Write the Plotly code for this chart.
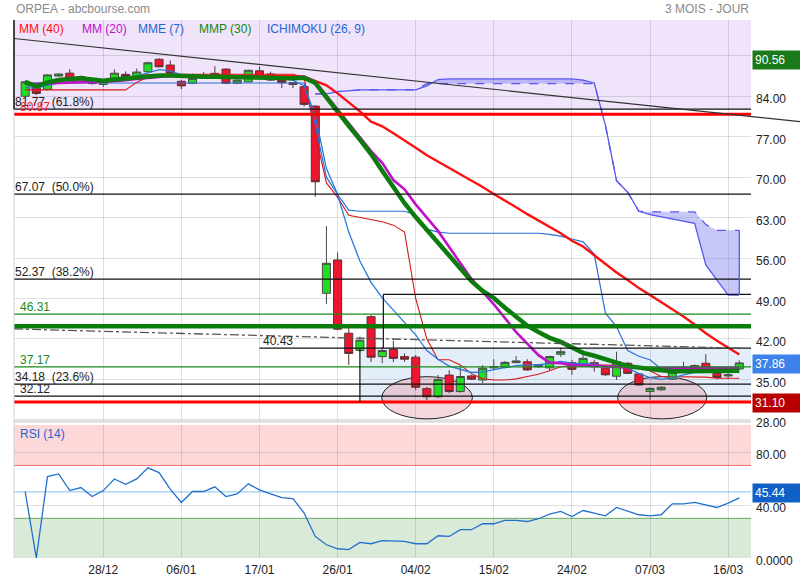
import plotly.graph_objects as go

# ---------------- data ----------------
tick_idx = [7, 14, 21, 28, 35, 42, 49, 56, 63]
tick_labels = ["28/12", "06/01", "17/01", "26/01", "04/02", "15/02", "24/02", "07/03", "16/03"]

opens = [84.0, 85.55, 85.2, 87.5, 88.0, 87.4, 86.5, 86.05, 86.9, 87.8,
         87.4, 88.25, 90.4, 89.4, 86.6, 86.25, 87.15, 87.97, 88.7, 86.25,
         86.5, 88.4, 87.85, 86.8, 86.35, 85.65, 82.3, 49.9, 55.67, 43.0,
         40.0, 45.85, 38.95, 40.2, 38.95, 38.85, 33.4, 32.0, 35.75, 32.9,
         35.6, 34.9, 37.0, 37.1, 37.9, 38.05, 37.2, 37.0, 39.35, 37.9,
         37.45, 37.9, 36.95, 35.55, 37.8, 35.95, 32.9, 33.2, 35.05, 36.9,
         37.05, 37.8, 36.05, 35.6, 36.8]
highs = [86.7, 85.7, 87.8, 87.95, 88.7, 87.6, 86.7, 86.9, 88.65, 88.3,
         88.8, 90.0, 90.56, 90.2, 86.8, 87.95, 88.2, 89.2, 88.8, 86.9,
         88.6, 89.1, 88.25, 86.9, 86.5, 85.8, 82.4, 61.55, 57.0, 43.85,
         42.4, 46.15, 40.6, 41.7, 39.5, 39.2, 33.7, 35.75, 36.6, 37.2,
         35.8, 37.5, 38.5, 38.2, 39.05, 38.5, 37.7, 39.1, 40.45, 38.4,
         39.2, 38.4, 37.1, 39.8, 38.0, 36.1, 33.6, 33.8, 37.0, 38.07,
         37.6, 39.35, 36.2, 36.3, 38.3]
lows = [83.8, 84.2, 85.0, 87.4, 87.0, 86.9, 86.0, 85.65, 86.8, 87.2,
        87.2, 88.1, 89.0, 87.7, 85.25, 86.1, 87.0, 87.1, 86.1, 86.1,
        86.4, 87.4, 86.7, 85.4, 85.4, 82.25, 66.6, 48.05, 43.5, 37.5,
        39.75, 38.0, 37.8, 38.0, 38.05, 33.2, 31.45, 31.75, 32.6, 32.7,
        34.9, 34.35, 36.6, 36.9, 37.8, 36.5, 37.0, 36.5, 38.9, 35.8,
        37.3, 36.35, 35.6, 34.9, 35.9, 33.9, 31.45, 33.0, 34.9, 36.65,
        36.9, 36.9, 35.0, 35.1, 36.6]
closes = [86.5, 84.5, 87.7, 87.85, 87.1, 87.2, 86.2, 86.8, 88.0, 87.4,
          88.2, 89.8, 89.1, 88.0, 85.8, 87.1, 87.35, 87.5, 86.25, 86.8,
          88.5, 87.5, 86.8, 86.35, 86.05, 82.6, 69.2, 55.1, 43.7, 39.5,
          41.8, 38.85, 40.0, 38.65, 38.5, 33.65, 32.0, 35.0, 32.9, 35.5,
          35.05, 36.95, 37.2, 37.95, 38.2, 36.65, 37.5, 38.95, 39.8, 36.75,
          38.65, 37.2, 35.8, 38.05, 36.05, 34.05, 33.45, 33.65, 36.25, 37.1,
          37.4, 37.05, 35.35, 35.8, 37.86]

mm40 = [86.4, 85.8, 86.3, 86.7, 86.9, 87.0, 86.85, 86.7, 86.85, 87.05,
        87.3, 87.6, 87.6, 87.6, 87.6, 87.6, 87.6, 87.6, 87.6, 87.6,
        87.6, 87.6, 87.6, 87.6, 87.5, 87.4, 86.7, 85.9, 84.5, 83.0,
        81.4, 79.6, 78.8, 77.6, 76.4, 75.1, 73.8, 72.7, 71.6, 70.6,
        69.4, 68.3, 67.1, 66.0, 64.8, 63.6, 62.5, 61.4, 60.3, 59.0,
        58.0, 56.5, 55.0, 53.5, 52.2, 50.8, 49.6, 48.4, 47.2, 45.9,
        44.5, 43.0, 41.7, 40.5, 39.3]
mm20 = [86.1, 86.1, 86.2, 86.3, 86.4, 86.5, 86.5, 86.5, 86.6, 86.8,
        87.0, 87.2, 87.4, 87.5, 87.4, 87.4, 87.4, 87.4, 87.4, 87.4,
        87.4, 87.4, 87.35, 87.3, 87.2, 87.4, 86.5, 84.1, 81.8, 79.4,
        77.0, 74.5, 72.5, 69.5, 67.9, 65.3, 63.0, 60.7, 57.9, 55.1,
        52.4, 50.2, 48.0, 45.6, 43.2, 41.2, 39.2, 37.9, 37.8, 37.5,
        37.4, 37.3, 37.2, 37.1, 37.05, 37.0, 36.95, 36.95, 37.0, 37.0,
        37.0, 37.0, 36.95, 36.95, 37.0]
mme7 = [85.5, 85.4, 85.9, 86.3, 86.5, 86.6, 86.5, 86.6, 86.9, 87.1,
        87.5, 88.1, 88.6, 88.4, 87.7, 87.5, 87.4, 87.4, 87.1, 87.1,
        87.4, 87.4, 87.2, 87.0, 86.8, 85.8, 80.7, 71.5, 67.0, 60.5,
        55.5, 51.8, 49.1, 47.0, 44.9, 42.7, 40.0, 38.5, 37.3, 36.7,
        36.2, 36.3, 36.7, 37.1, 37.4, 37.5, 37.5, 37.8, 38.1, 37.8,
        37.8, 37.7, 37.2, 37.3, 37.0, 36.0, 35.3, 35.0, 35.3, 35.8,
        36.3, 36.7, 36.5, 36.7, 37.3]
mmp30 = [86.5, 85.7, 86.4, 86.8, 87.0, 87.1, 86.9, 86.7, 86.9, 87.1,
         87.3, 87.45, 87.6, 87.6, 87.5, 87.4, 87.4, 87.4, 87.35, 87.3,
         87.3, 87.25, 87.2, 87.2, 87.1, 87.2, 86.3, 83.8, 81.2, 78.9,
         76.5, 74.0, 71.1, 68.3, 65.5, 63.1, 60.9, 58.7, 56.5, 54.3,
         52.0, 50.3, 49.1, 47.4, 45.8, 44.3, 43.2, 42.2, 41.5, 40.5,
         39.6, 39.1, 38.6, 37.9, 37.3, 37.0, 36.8, 36.6, 36.4, 36.4,
         36.4, 36.4, 36.45, 36.5, 36.5]
tenkan = [85.1, 85.1, 85.1, 85.1, 85.1, 85.1, 85.1, 85.1, 85.1, 85.1,
          86.4, 87.4, 87.7, 87.8, 87.8, 87.8, 87.8, 87.8, 87.8, 87.8,
          87.8, 87.8, 87.8, 87.8, 87.8, 87.2, 77.5, 69.0, 66.5, 63.4,
          63.0, 62.7, 62.3, 61.7, 60.5, 49.0, 42.0, 38.4, 38.4, 37.5,
          36.0, 35.1, 34.9, 34.9, 35.1, 35.5, 35.9, 36.5, 37.2, 37.4,
          37.5, 37.5, 37.5, 37.5, 37.4, 37.2, 36.5, 35.5, 35.5, 35.5,
          35.5, 35.4, 35.2, 35.2, 35.2]
kijun = [86.3, 86.3, 86.3, 86.3, 86.3, 86.3, 86.3, 86.3, 86.3, 86.3,
         86.3, 86.3, 86.3, 86.3, 86.3, 86.3, 86.3, 86.3, 86.3, 86.3,
         86.3, 86.3, 86.3, 86.3, 86.3, 86.3, 79.0, 70.0, 67.0, 64.3,
         64.1, 64.1, 64.1, 64.1, 64.1, 63.5, 61.0, 60.5, 60.3, 60.3,
         60.3, 60.3, 60.3, 60.3, 60.3, 60.3, 60.3, 60.1, 59.8, 59.3,
         58.8, 56.7, 46.5, 44.1, 40.0, 39.0, 38.4, 36.8, 36.2, 36.2,
         36.2, 36.2, 36.2, 36.2, 36.2]
cloud_x = list(range(26, 65))
cloud_solid = [84.4, 84.4, 84.8, 85.0, 85.1, 85.1, 85.1, 85.1, 85.1, 85.1,
               85.8, 86.9, 87.0, 87.0, 87.0, 87.0, 87.0, 87.0, 87.0, 87.0,
               87.0, 87.0, 87.0, 87.0, 86.8, 86.3, 79.0, 69.4, 67.4, 64.1,
               63.5, 63.1, 62.7, 62.4, 62.0, 54.8, 52.3, 49.6, 49.6]
cloud_dashed = [84.4, 84.4, 84.8, 85.0, 85.1, 85.1, 85.1, 85.1, 85.1, 85.1,
                86.2, 86.2, 86.2, 86.2, 86.2, 86.2, 86.2, 86.2, 86.2, 86.2,
                86.2, 86.2, 86.2, 86.2, 86.2, 86.2, 79.0, 69.4, 67.4, 64.1,
                64.0, 64.0, 64.0, 64.0, 64.0, 61.8, 60.8, 60.8, 60.8]
rsi = [50.3, 0.0, 61.6, 63.6, 51.0, 53.3, 46.5, 51.0, 59.8, 55.8,
       59.8, 68.2, 64.6, 52.1, 42.0, 50.3, 50.3, 53.8, 46.5, 48.5,
       56.1, 51.5, 48.5, 45.7, 45.0, 34.0, 16.3, 10.0, 7.0, 6.3,
       11.8, 10.8, 13.1, 13.1, 12.6, 10.8, 10.8, 16.8, 16.3, 21.4,
       21.4, 25.9, 25.9, 28.4, 28.4, 27.6, 29.7, 33.2, 35.2, 31.4,
       35.9, 34.0, 31.9, 38.2, 35.2, 32.7, 31.9, 32.7, 41.0, 41.0,
       42.0, 40.2, 38.2, 41.5, 45.44]

fib_levels = [81.77, 67.07, 52.37, 34.18]
fib_pcts = ["61.8%", "50.0%", "38.2%", "23.6%"]
support_level = 32.12
red_levels = [80.87, 31.10]
green_levels = [46.31, 37.17]
green_thick_level = 44.2
level_4043 = 40.43
box_top = 49.73
box_left_idx = 30
rect_left_idx = 32.1
level_4043_start = 21
trend_top = [94.0, 79.6]
dashdot_line = [43.73, 40.35]
ellipses = [[31.96, 40.08, 28.17, 35.48], [53.1, 61.08, 28.17, 35.48]]
max_price = 90.56
last_price = 37.86
support_price = 31.10
rsi_last = 45.44

N = len(closes)
xs = list(range(N))
X_MIN, X_MAX = -1, 65.05
Y_MIN, Y_MAX = 27.8, 97.2
R_MIN, R_MAX = 0, 100.6
FONT = "Liberation Sans, Arial, sans-serif"

fig = go.Figure()

fig.add_trace(go.Candlestick(
    x=xs, open=opens, high=highs, low=lows, close=closes,
    increasing=dict(fillcolor="#22dd22", line=dict(color="#4a4a4a", width=1)),
    decreasing=dict(fillcolor="#ee1530", line=dict(color="#5a3030", width=1)),
    whiskerwidth=0, xaxis="x", yaxis="y", hoverinfo="skip"))

# Ichimoku cloud
fig.add_trace(go.Scatter(x=cloud_x, y=cloud_solid, mode="lines",
                         line=dict(color="#5858f2", width=1.3), xaxis="x", yaxis="y"))
fig.add_trace(go.Scatter(x=cloud_x, y=cloud_dashed, mode="lines",
                         line=dict(color="#5858f2", width=1.3, dash="dash"),
                         fill="tonexty", fillcolor="rgba(95,95,235,0.35)",
                         xaxis="x", yaxis="y"))
fig.add_trace(go.Scatter(x=xs, y=kijun, mode="lines",
                         line=dict(color="#2a6fd6", width=1.2), xaxis="x", yaxis="y"))
fig.add_trace(go.Scatter(x=xs, y=tenkan, mode="lines",
                         line=dict(color="#d81818", width=1.1), xaxis="x", yaxis="y"))
fig.add_trace(go.Scatter(x=xs, y=mme7, mode="lines",
                         line=dict(color="#2a78dc", width=1.3), xaxis="x", yaxis="y"))
fig.add_trace(go.Scatter(x=xs, y=mm40, mode="lines",
                         line=dict(color="#ff1010", width=2.4), xaxis="x", yaxis="y"))
fig.add_trace(go.Scatter(x=xs, y=mm20, mode="lines",
                         line=dict(color="#c010c8", width=2.6), xaxis="x", yaxis="y"))
fig.add_trace(go.Scatter(x=xs, y=mmp30, mode="lines",
                         line=dict(color="#0c7d0c", width=4.5), xaxis="x", yaxis="y"))

# RSI
fig.add_trace(go.Scatter(x=xs, y=rsi, mode="lines",
                         line=dict(color="#2070cc", width=1.3), xaxis="x2", yaxis="y2"))

shapes = []
# backgrounds
shapes.append(dict(type="rect", xref="x domain", x0=0, x1=1, yref="y", y0=fib_levels[0], y1=Y_MAX,
                   fillcolor="#f0e4fb", line=dict(width=0), layer="below"))
shapes.append(dict(type="rect", xref="x", x0=box_left_idx, x1=X_MAX, yref="y",
                   y0=support_price, y1=level_4043,
                   fillcolor="#e4eefa", line=dict(width=0), layer="below"))
shapes.append(dict(type="rect", xref="x2 domain", x0=0, x1=1, yref="y2", y0=70, y1=R_MAX,
                   fillcolor="#fcd8d8", line=dict(width=0), layer="below"))
shapes.append(dict(type="rect", xref="x2 domain", x0=0, x1=1, yref="y2", y0=R_MIN, y1=30,
                   fillcolor="#d9ead9", line=dict(width=0), layer="below"))
# RSI reference lines
shapes.append(dict(type="line", xref="x2 domain", x0=0, x1=1, yref="y2", y0=70, y1=70,
                   line=dict(color="#f07070", width=1), layer="below"))
shapes.append(dict(type="line", xref="x2 domain", x0=0, x1=1, yref="y2", y0=50, y1=50,
                   line=dict(color="#88c2f0", width=1), layer="below"))
shapes.append(dict(type="line", xref="x2 domain", x0=0, x1=1, yref="y2", y0=30, y1=30,
                   line=dict(color="#66a866", width=1), layer="below"))
# ellipses
for e in ellipses:
    shapes.append(dict(type="circle", xref="x", yref="y", x0=e[0], x1=e[1], y0=e[2], y1=e[3],
                       fillcolor="rgba(225,130,145,0.33)", line=dict(color="#222", width=1),
                       layer="below"))


def hline(v, color, width=1, dash="solid", x0=None, layer="above"):
    if x0 is None:
        return dict(type="line", xref="x domain", x0=0, x1=1, yref="y", y0=v, y1=v,
                    line=dict(color=color, width=width, dash=dash), layer=layer)
    return dict(type="line", xref="x", x0=x0, x1=X_MAX, yref="y", y0=v, y1=v,
                line=dict(color=color, width=width, dash=dash), layer=layer)


for v in fib_levels:
    shapes.append(hline(v, "#111", 1.2))
shapes.append(hline(support_level, "#111", 1.2))
for v in red_levels:
    shapes.append(hline(v, "#ff0000", 3))
for v in green_levels:
    shapes.append(hline(v, "#1a8a1a", 1.2))
shapes.append(hline(green_thick_level, "#0c7d0c", 4.5))
shapes.append(hline(level_4043, "#111", 1.2, x0=level_4043_start))
shapes.append(hline(box_top, "#111", 1.2, x0=rect_left_idx))
shapes.append(dict(type="line", xref="x", x0=rect_left_idx, x1=rect_left_idx, yref="y",
                   y0=level_4043, y1=box_top, line=dict(color="#111", width=1.2)))
shapes.append(dict(type="line", xref="x", x0=box_left_idx, x1=box_left_idx, yref="y",
                   y0=support_price, y1=level_4043, line=dict(color="#111", width=1.2)))
shapes.append(dict(type="line", xref="x", x0=cloud_x[-1], x1=cloud_x[-1], yref="y",
                   y0=cloud_solid[-1], y1=cloud_dashed[-1], line=dict(color="#5858f2", width=1.3)))
# dash-dot and trend line
shapes.append(dict(type="line", xref="x", x0=X_MIN, x1=X_MAX, yref="y",
                   y0=dashdot_line[0], y1=dashdot_line[1],
                   line=dict(color="#555", width=1.3, dash="dashdot")))
shapes.append(dict(type="line", xref="paper", x0=0, x1=1.0665, yref="y",
                   y0=trend_top[0], y1=trend_top[1], line=dict(color="#333", width=1.2)))
# left borders
shapes.append(dict(type="line", xref="paper", x0=0, x1=0, yref="paper", y0=0, y1=1,
                   line=dict(color="#d0d0d0", width=1)))
shapes.append(dict(type="line", xref="paper", x0=0, x1=0, yref="y", y0=fib_levels[0], y1=Y_MAX,
                   line=dict(color="#111", width=1.5)))
# panel separator
shapes.append(dict(type="line", xref="paper", x0=0, x1=1, yref="paper", y0=0.2535, y1=0.2535,
                   line=dict(color="#dcdcdc", width=2.5)))

ann = []
ann.append(dict(text="ORPEA - abcbourse.com", xref="paper", yref="paper", x=0, y=1.0204,
                xanchor="left", yanchor="middle", showarrow=False,
                font=dict(size=12, color="#8a8a8a", family=FONT)))
ann.append(dict(text="3 MOIS - JOUR", xref="paper", yref="paper", x=1, y=1.0204,
                xanchor="right", yanchor="middle", showarrow=False,
                font=dict(size=12, color="#8a8a8a", family=FONT)))
legend_items = [("MM (40)", "#ff1010", 0.0055), ("MM (20)", "#c010c8", 0.091),
                ("MME (7)", "#1f66d1", 0.167), ("MMP (30)", "#118811", 0.2495),
                ("ICHIMOKU (26, 9)", "#1f66d1", 0.342)]
for t, c, xp in legend_items:
    ann.append(dict(text=t, xref="paper", yref="paper", x=xp, y=0.9833, xanchor="left",
                    yanchor="middle", showarrow=False, borderpad=0,
                    font=dict(size=12, color=c, family=FONT)))
ann.append(dict(text="RSI (14)", xref="paper", yref="paper", x=0.007, y=0.2305, xanchor="left",
                yanchor="middle", showarrow=False, borderpad=0,
                font=dict(size=12, color="#1f66d1", family=FONT)))

for v, p in zip(fib_levels, fib_pcts):
    ann.append(dict(text=f"{v:.2f}\u00a0\u00a0({p})", xref="paper", yref="y", x=0, y=v,
                    xanchor="left", yanchor="bottom", showarrow=False, borderpad=0, yshift=-1,
                    font=dict(size=12, color="#222", family=FONT)))
ann.append(dict(text=f"{support_level:.2f}", xref="paper", yref="y", x=0, xshift=5,
                y=support_level, xanchor="left", yanchor="bottom", showarrow=False, borderpad=0,
                yshift=-1, font=dict(size=12, color="#222", family=FONT)))
ann.append(dict(text=f"{red_levels[0]:.2f}", xref="paper", yref="y", x=0, xshift=5,
                y=red_levels[0], xanchor="left", yanchor="bottom", showarrow=False, borderpad=0,
                yshift=-1, font=dict(size=12, color="#ff2020", family=FONT)))
for v in green_levels:
    ann.append(dict(text=f"{v:.2f}", xref="paper", yref="y", x=0, xshift=5, y=v,
                    xanchor="left", yanchor="bottom", showarrow=False, borderpad=0, yshift=-1,
                    font=dict(size=12, color="#1a8a1a", family=FONT)))
ann.append(dict(text=f"{level_4043:.2f}", xref="x", yref="y", x=level_4043_start + 0.25,
                y=level_4043, xanchor="left", yanchor="bottom", showarrow=False, borderpad=0,
                yshift=-1, font=dict(size=12, color="#222", family=FONT)))

# right-side value boxes
for v, bg, yr, ys in [(max_price, "#1a7a1a", "y", -2), (last_price, "#3d82ea", "y", -1),
                      (support_price, "#b80000", "y", -1), (rsi_last, "#1060c8", "y2", 5)]:
    ann.append(dict(text=f"{v:.2f}", xref="paper", yref=yr, x=1, xshift=1, y=v, yshift=ys,
                    xanchor="left", yanchor="middle", showarrow=False, align="left",
                    bgcolor=bg, borderpad=2, width=44,
                    font=dict(size=12, color="white", family=FONT)))

grid = "rgba(0,0,0,0.12)"
main_ticks = list(range(28, 92, 7))
fig.update_layout(
    width=800, height=580,
    margin=dict(l=14, r=49, t=20, b=22, autoexpand=False),
    paper_bgcolor="white", plot_bgcolor="white",
    showlegend=False, hovermode=False,
    font=dict(family=FONT, size=12, color="#222"),
    shapes=shapes, annotations=ann,
    boxgap=0.1, boxgroupgap=0.2,
    xaxis=dict(domain=[0, 1], range=[X_MIN, X_MAX], anchor="y", tickvals=tick_idx,
               showticklabels=False, showgrid=True, gridcolor=grid, zeroline=False,
               rangeslider=dict(visible=False), ticks="", automargin=False),
    xaxis2=dict(domain=[0, 1], range=[X_MIN, X_MAX], anchor="y2", matches="x",
                tickvals=tick_idx, ticktext=tick_labels, showgrid=True, gridcolor=grid,
                zeroline=False, ticks="", ticklabelstandoff=3, automargin=False,
                tickfont=dict(size=12, color="#222")),
    yaxis=dict(domain=[0.2546, 1], range=[Y_MIN, Y_MAX], side="right", anchor="x",
               tickvals=main_ticks, ticktext=[f"{v:.2f}" for v in main_ticks],
               showgrid=True, gridcolor=grid, zeroline=False, ticks="", automargin=False,
               ticklabelshift=3, ticklabelstandoff=4,
               tickfont=dict(size=12, color="#222")),
    yaxis2=dict(domain=[0, 0.2472], range=[R_MIN, R_MAX], side="right", anchor="x2",
                tickvals=[0, 40, 80], ticktext=["0.0000", "40.00", "80.00"],
                showgrid=True, gridcolor=grid, zeroline=False, ticks="", automargin=False,
                ticklabelshift=3, ticklabelstandoff=4,
                tickfont=dict(size=12, color="#222")),
)

fig.write_html("out.html", config={"displayModeBar": False},
               post_script="document.body.style.margin='0px';")
